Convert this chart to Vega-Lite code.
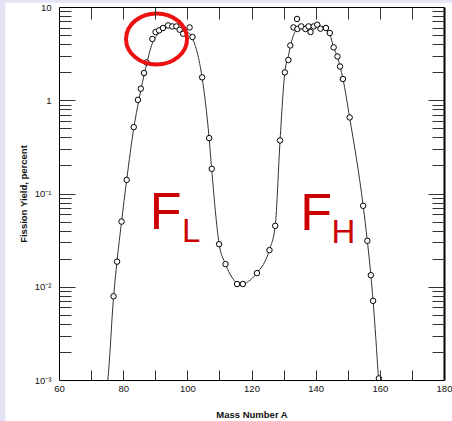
{
  "$schema": "https://vega.github.io/schema/vega-lite/v6.json",
  "autosize": {"type": "none"},
  "padding": {"left": 59, "top": 7, "right": 8, "bottom": 41},
  "width": 385,
  "height": 373,
  "background": "#e4e4f6",
  "config": {
    "view": {"stroke": null},
    "axis": {
      "zindex": 1, "grid": false, "domainColor": "#000", "domainWidth": 1,
      "tickColor": "#333", "tickWidth": 1,
      "labelFont": "Liberation Sans", "labelFontSize": 9.5, "labelColor": "#111",
      "titleFont": "Liberation Sans", "titleFontSize": 9.5, "titleFontWeight": "bold", "titleColor": "#111"
    }
  },
  "datasets": {
    "bg": [{"x1": 43.3, "x2": 300, "y1": 11.1, "y2": 0.000001}],
    "curve": [
      {"A": 74.5, "Y": 0.0007}, {"A": 75.2, "Y": 0.001}, {"A": 77, "Y": 0.0077},
      {"A": 78.1, "Y": 0.019}, {"A": 79.5, "Y": 0.05}, {"A": 81.1, "Y": 0.14},
      {"A": 83.3, "Y": 0.5}, {"A": 85, "Y": 1.05}, {"A": 87, "Y": 2.2},
      {"A": 89, "Y": 4.0}, {"A": 91, "Y": 5.2}, {"A": 93, "Y": 5.9},
      {"A": 95.5, "Y": 6.2}, {"A": 98, "Y": 5.9}, {"A": 99.8, "Y": 5.5},
      {"A": 101.6, "Y": 4.6}, {"A": 104.6, "Y": 1.75}, {"A": 106.8, "Y": 0.39},
      {"A": 107.6, "Y": 0.18}, {"A": 109.9, "Y": 0.029}, {"A": 111.9, "Y": 0.0175},
      {"A": 114, "Y": 0.0125}, {"A": 116.5, "Y": 0.0105}, {"A": 119, "Y": 0.0114},
      {"A": 121.7, "Y": 0.014}, {"A": 125.6, "Y": 0.025}, {"A": 127.4, "Y": 0.045},
      {"A": 128.9, "Y": 0.37}, {"A": 130.4, "Y": 2.0}, {"A": 131.5, "Y": 3.0},
      {"A": 132.5, "Y": 4.3}, {"A": 134, "Y": 5.7}, {"A": 136, "Y": 6.2},
      {"A": 140, "Y": 6.3}, {"A": 143, "Y": 5.9}, {"A": 144.5, "Y": 5.0},
      {"A": 145.6, "Y": 3.7}, {"A": 146.8, "Y": 2.9}, {"A": 147.6, "Y": 2.3},
      {"A": 148.5, "Y": 1.7}, {"A": 150.6, "Y": 0.65}, {"A": 154.8, "Y": 0.074},
      {"A": 156.1, "Y": 0.031}, {"A": 157.2, "Y": 0.0133}, {"A": 157.9, "Y": 0.007},
      {"A": 159.6, "Y": 0.001}, {"A": 160, "Y": 0.0006}
    ],
    "points": [
      {"A": 77, "Y": 0.0079}, {"A": 78.1, "Y": 0.0186}, {"A": 79.5, "Y": 0.05},
      {"A": 81.1, "Y": 0.14}, {"A": 83.3, "Y": 0.515}, {"A": 84.6, "Y": 1.01},
      {"A": 85.5, "Y": 1.33}, {"A": 86.5, "Y": 1.96}, {"A": 87.3, "Y": 2.54},
      {"A": 89.1, "Y": 4.54}, {"A": 90.1, "Y": 5.39}, {"A": 91.2, "Y": 5.61},
      {"A": 92.4, "Y": 5.95}, {"A": 94, "Y": 6.35}, {"A": 95.3, "Y": 6.19},
      {"A": 96.6, "Y": 6.19}, {"A": 97.6, "Y": 5.71}, {"A": 98.7, "Y": 5.17},
      {"A": 100.7, "Y": 6.04}, {"A": 101.6, "Y": 4.77}, {"A": 104.6, "Y": 1.76},
      {"A": 106.8, "Y": 0.393}, {"A": 107.6, "Y": 0.184}, {"A": 109.9, "Y": 0.0286},
      {"A": 111.9, "Y": 0.0175}, {"A": 115.5, "Y": 0.0107}, {"A": 117.3, "Y": 0.0107},
      {"A": 121.7, "Y": 0.014}, {"A": 125.6, "Y": 0.0247}, {"A": 127.4, "Y": 0.045},
      {"A": 128.9, "Y": 0.371}, {"A": 130.4, "Y": 1.99}, {"A": 131.5, "Y": 2.7},
      {"A": 132.1, "Y": 3.87}, {"A": 133.1, "Y": 6.04}, {"A": 134.2, "Y": 7.44},
      {"A": 134.3, "Y": 5.81}, {"A": 135.5, "Y": 6.19}, {"A": 136.8, "Y": 5.81},
      {"A": 137.8, "Y": 6.19}, {"A": 138.4, "Y": 5.39}, {"A": 139.4, "Y": 6.19},
      {"A": 140.5, "Y": 6.46}, {"A": 141.5, "Y": 5.86}, {"A": 143.2, "Y": 5.95},
      {"A": 144.4, "Y": 5.26}, {"A": 145.6, "Y": 3.69}, {"A": 146.8, "Y": 2.95},
      {"A": 147.6, "Y": 2.3}, {"A": 148.5, "Y": 1.69}, {"A": 150.6, "Y": 0.654},
      {"A": 154.8, "Y": 0.0738}, {"A": 156.1, "Y": 0.0311}, {"A": 157.2, "Y": 0.0133},
      {"A": 157.9, "Y": 0.00706}, {"A": 159.7, "Y": 0.00104}
    ],
    "big": [{"A": 88.3, "Y": 0.0415, "t": "F"}, {"A": 135.2, "Y": 0.0408, "t": "F"}],
    "sub": [{"A": 98.3, "Y": 0.0305, "t": "L"}, {"A": 144.9, "Y": 0.0294, "t": "H"}],
    "ring": [{"A": 90.4, "Y": 4.55}]
  },
  "resolve": {"axis": {"x": "independent", "y": "independent"}},
  "layer": [
    {
      "data": {"name": "bg"},
      "mark": {"type": "rect", "fill": "#ffffff", "clip": false},
      "encoding": {
        "x": {"field": "x1", "type": "quantitative", "scale": {"domain": [60, 180], "nice": false, "zero": false},
          "axis": {"orient": "bottom", "zindex": 1, "values": [60, 80, 100, 120, 140, 160, 180], "ticks": false, "domain": true,
            "labelPadding": 3, "labelFlush": false, "labelOverlap": false, "title": "Mass Number A", "titlePadding": 17}},
        "x2": {"field": "x2"},
        "y": {"field": "y1", "type": "quantitative", "scale": {"type": "log", "domain": [0.001, 10], "nice": false},
          "axis": {"orient": "left", "zindex": 1, "values": [0.001, 0.01, 0.1, 1, 10], "ticks": false, "domain": true,
            "labelPadding": 8, "labelFlush": false, "labelOverlap": false,
            "labelExpr": "datum.value >= 9 ? '10' : datum.value >= 0.9 ? '1' : datum.value >= 0.09 ? '10\u207b\u00b9' : datum.value >= 0.009 ? '10\u207b\u00b2' : '10\u207b\u00b3'",
            "title": "Fission Yield, percent", "titlePadding": 6}},
        "y2": {"field": "y2"}
      }
    },
    {
      "data": {"name": "curve"},
      "mark": {"type": "line", "interpolate": "monotone", "clip": true, "color": "#333", "strokeWidth": 1},
      "encoding": {
        "x": {"field": "A", "type": "quantitative", "scale": {"domain": [60, 180], "nice": false, "zero": false},
          "axis": {"orient": "bottom", "zindex": 1, "values": [70, 80, 90, 100, 110, 120, 130, 140, 150, 160, 170], "tickSize": -10,
            "labels": false, "domain": false, "title": null}},
        "y": {"field": "Y", "type": "quantitative", "scale": {"type": "log", "domain": [0.001, 10], "nice": false},
          "axis": {"orient": "left", "zindex": 1, "values": [0.01, 0.1, 1], "tickSize": -16, "labels": false, "domain": false, "title": null}}
      }
    },
    {
      "data": {"name": "points"},
      "mark": {"type": "point", "shape": "circle", "filled": true, "fill": "#ffffff", "stroke": "#000", "strokeWidth": 1, "size": 30, "opacity": 1, "clip": true},
      "encoding": {
        "x": {"field": "A", "type": "quantitative", "scale": {"domain": [60, 180], "nice": false, "zero": false},
          "axis": {"orient": "top", "zindex": 1, "values": [70, 80, 90, 100, 110, 120, 130, 140, 150, 160, 170], "tickSize": -12,
            "labels": false, "domain": true, "title": null}},
        "y": {"field": "Y", "type": "quantitative", "scale": {"type": "log", "domain": [0.001, 10], "nice": false},
          "axis": {"orient": "left", "zindex": 1, "values": [0.002, 0.003, 0.004, 0.005, 0.006, 0.007, 0.008, 0.009, 0.02, 0.03, 0.04, 0.05, 0.06, 0.07, 0.08, 0.09, 0.2, 0.3, 0.4, 0.5, 0.6, 0.7, 0.8, 0.9, 2, 3, 4, 5, 6, 7, 8, 9],
            "tickSize": -12, "labels": false, "domain": false, "title": null}}
      }
    },
    {
      "data": {"name": "big"},
      "mark": {"type": "text", "align": "left", "baseline": "alphabetic", "font": "Liberation Sans", "fontSize": 52, "color": "#cc0000"},
      "encoding": {
        "x": {"field": "A", "type": "quantitative", "scale": {"domain": [60, 180], "nice": false, "zero": false}, "axis": null},
        "y": {"field": "Y", "type": "quantitative", "scale": {"type": "log", "domain": [0.001, 10], "nice": false},
          "axis": {"orient": "right", "zindex": 1, "values": [0.01, 0.1, 1], "tickSize": -16, "labels": false, "domain": true, "domainWidth": 2, "title": null}},
        "text": {"field": "t"}
      }
    },
    {
      "data": {"name": "sub"},
      "mark": {"type": "text", "align": "left", "baseline": "alphabetic", "font": "Liberation Sans", "fontSize": 33, "color": "#cc0000"},
      "encoding": {
        "x": {"field": "A", "type": "quantitative", "scale": {"domain": [60, 180], "nice": false, "zero": false}, "axis": null},
        "y": {"field": "Y", "type": "quantitative", "scale": {"type": "log", "domain": [0.001, 10], "nice": false},
          "axis": {"orient": "right", "zindex": 1, "values": [0.002, 0.003, 0.004, 0.005, 0.006, 0.007, 0.008, 0.009, 0.02, 0.03, 0.04, 0.05, 0.06, 0.07, 0.08, 0.09, 0.2, 0.3, 0.4, 0.5, 0.6, 0.7, 0.8, 0.9, 2, 3, 4, 5, 6, 7, 8, 9],
            "tickSize": -12, "labels": false, "domain": false, "title": null}},
        "text": {"field": "t"}
      }
    },
    {
      "data": {"name": "ring"},
      "mark": {"type": "point", "shape": "M-1,0A1,0.836,0,1,0,1,0A1,0.836,0,1,0,-1,0Z", "filled": false, "stroke": "#ee1111", "strokeWidth": 4, "size": 3721, "opacity": 1},
      "encoding": {
        "x": {"field": "A", "type": "quantitative", "scale": {"domain": [60, 180], "nice": false, "zero": false}, "axis": null},
        "y": {"field": "Y", "type": "quantitative", "scale": {"type": "log", "domain": [0.001, 10], "nice": false}, "axis": null}
      }
    }
  ]
}
